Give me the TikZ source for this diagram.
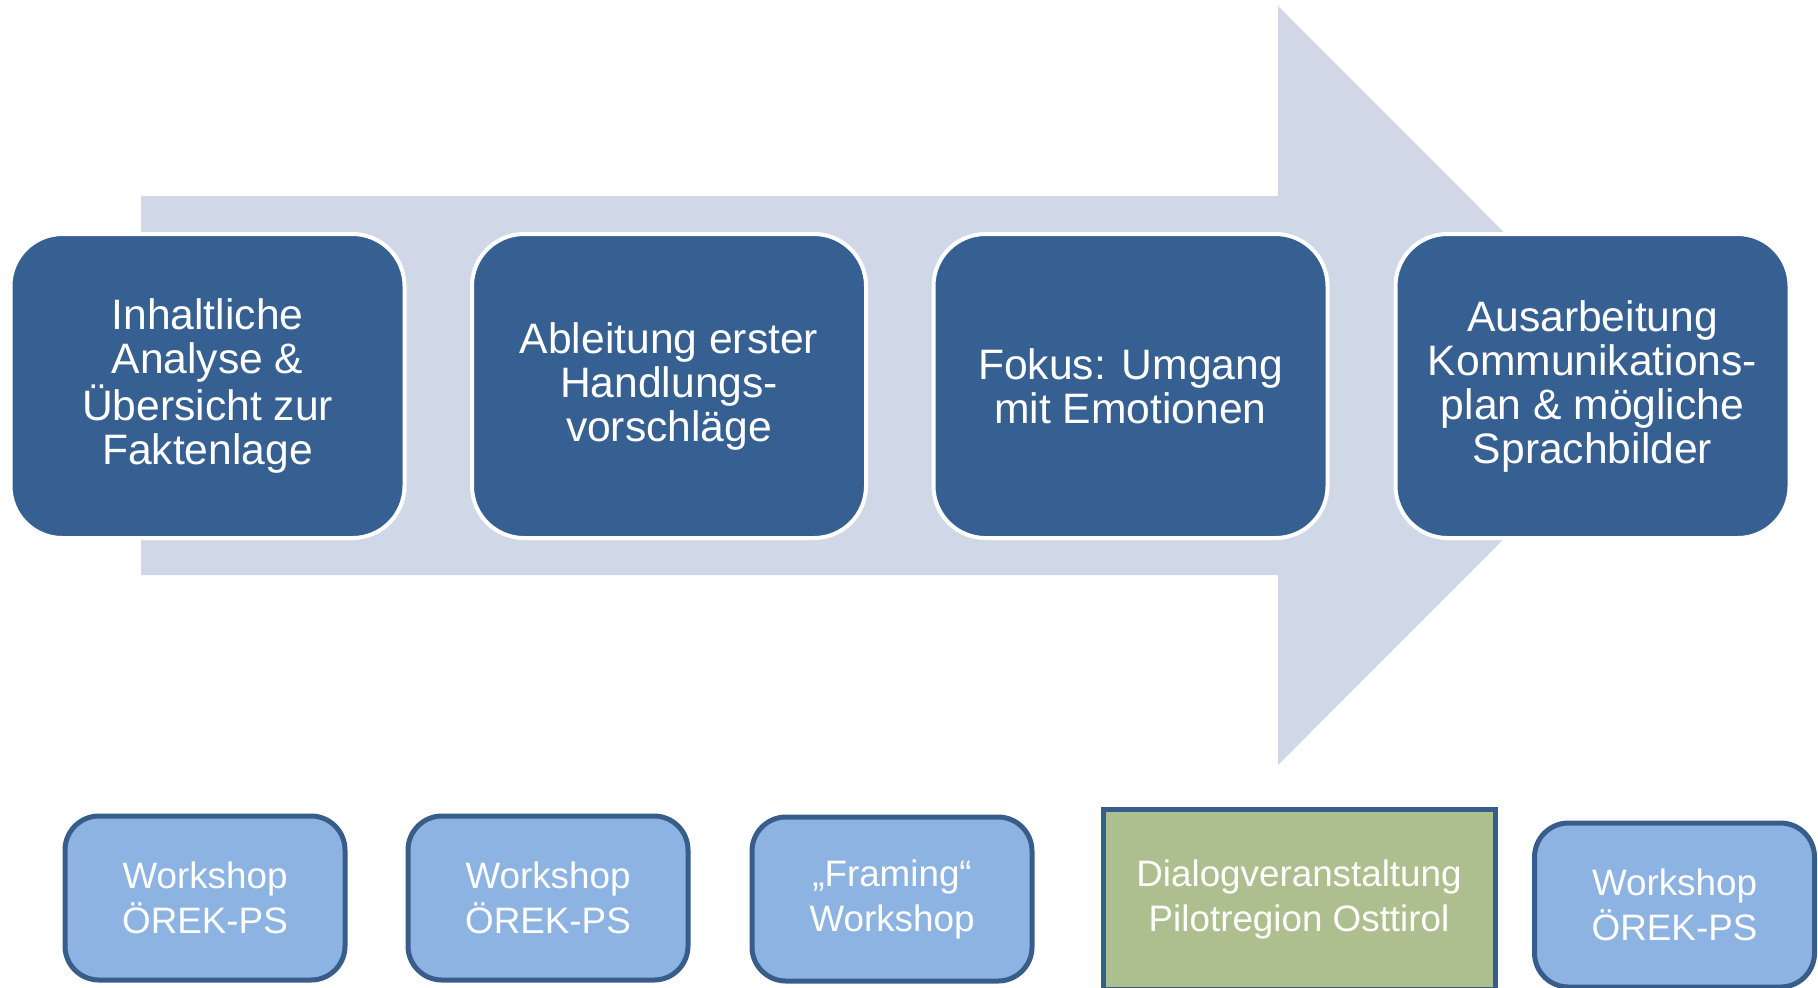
\documentclass[tikz,border=0pt]{standalone}
\usepackage{fontspec}
\setmainfont{Liberation Sans}
\definecolor{arrowfill}{HTML}{D0D8E8}
\definecolor{stagefill}{HTML}{376092}
\definecolor{eventfill}{HTML}{8DB3E2}
\definecolor{eventline}{HTML}{385D8A}
\definecolor{dialogfill}{HTML}{ADBF8E}
\tikzset{
  stagebox/.style={draw=white, line width=2pt, fill=stagefill, rounded corners=26pt,
    minimum width=197pt, minimum height=152pt, align=center, text=white,
    font=\fontsize{21.3pt}{22pt}\selectfont, inner sep=0pt},
  eventbox/.style={draw=eventline, line width=2.5pt, fill=eventfill, rounded corners=17pt,
    minimum width=140pt, minimum height=82pt, align=center, text=white,
    font=\fontsize{18.4pt}{22.5pt}\selectfont, inner sep=0pt},
  dialogbox/.style={eventbox, fill=dialogfill, rounded corners=0pt,
    minimum width=196pt, minimum height=90pt}
}
\begin{document}
\begin{tikzpicture}[x=0.5pt,y=-0.5pt]
\useasboundingbox (0,0) rectangle (1818,987);
% broad process arrow behind the stages
\fill[arrowfill] (141,196) -- (1278,196) -- (1278,6) -- (1657,385.5)
  -- (1278,765) -- (1278,575) -- (141,575) -- cycle;
% process stages
\node[stagebox] (s1) at (207.5,386) {Inhaltliche\\Analyse \&\\Übersicht zur\\Faktenlage};
\node[stagebox] (s2) at (669,386) {Ableitung erster\\Handlungs-\\vorschläge};
\node[stagebox] (s3) at (1130.5,386) {Fokus: Umgang\\mit Emotionen};
\node[stagebox] (s4) at (1592.5,386) {Ausarbeitung\\Kommunikations-\\plan \& mögliche\\Sprachbilder};
% events below
\node[eventbox] (e1) at (205,898) {Workshop\\ÖREK-PS};
\node[eventbox] (e2) at (548,898) {Workshop\\ÖREK-PS};
\node[eventbox] (e3) at (892,899) {„Framing“\\Workshop};
\node[dialogbox] (e4) at (1299,899) {Dialogveranstaltung\\Pilotregion Osttirol};
\node[eventbox] (e5) at (1674.5,905) {Workshop\\ÖREK-PS};
\end{tikzpicture}
\end{document}
